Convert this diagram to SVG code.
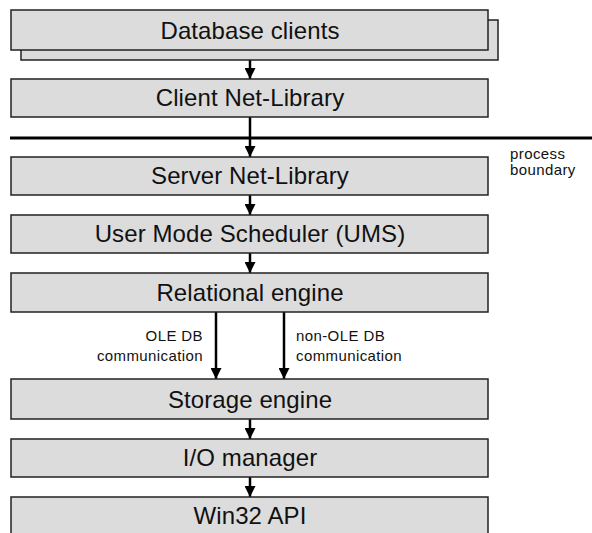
<svg xmlns="http://www.w3.org/2000/svg" width="592" height="533" viewBox="0 0 592 533">
<defs>
<style>
.box{fill:#dcdcdc;stroke:#222;stroke-width:1.5}
.t{font-family:"Liberation Sans",Arial,sans-serif;font-size:24px;letter-spacing:0.1px;fill:#111;text-anchor:middle}
.s{font-family:"Liberation Sans",Arial,sans-serif;font-size:15px;letter-spacing:0.4px;fill:#111}
.c{stroke:#000;stroke-width:2.5;fill:none}
</style>
<marker id="ah" viewBox="0 0 10 10" refX="10" refY="5" markerWidth="11" markerHeight="11" markerUnits="userSpaceOnUse" orient="auto">
<path d="M0,0 L10,5 L0,10 z" fill="#000"/>
</marker>
</defs>
<rect width="592" height="533" fill="#fff"/>
<g id="connectors">
<line class="c" x1="250" y1="50" x2="250" y2="79" marker-end="url(#ah)"/>
<line class="c" x1="250" y1="117" x2="250" y2="157" marker-end="url(#ah)"/>
<line class="c" x1="250" y1="195" x2="250" y2="215" marker-end="url(#ah)"/>
<line class="c" x1="250" y1="253" x2="250" y2="273" marker-end="url(#ah)"/>
<line class="c" x1="216" y1="312" x2="216" y2="379" marker-end="url(#ah)"/>
<line class="c" x1="284" y1="312" x2="284" y2="379" marker-end="url(#ah)"/>
<line class="c" x1="250" y1="419" x2="250" y2="439" marker-end="url(#ah)"/>
<line class="c" x1="250" y1="477" x2="250" y2="497" marker-end="url(#ah)"/>
</g>
<g id="process-boundary">
<line x1="10" y1="138" x2="592" y2="138" stroke="#000" stroke-width="3"/>
<text class="s" x="510" y="159">process</text>
<text class="s" x="510" y="175">boundary</text>
</g>
<g id="database-clients">
<rect class="box" x="21" y="20" width="477" height="40"/>
<rect class="box" x="11" y="10" width="477" height="40"/>
<text class="t" x="250" y="38.5">Database clients</text>
</g>
<g id="client-net-library">
<rect class="box" x="11" y="79" width="477" height="38"/>
<text class="t" x="250" y="106">Client Net-Library</text>
</g>
<g id="server-net-library">
<rect class="box" x="11" y="157" width="477" height="38"/>
<text class="t" x="250" y="184">Server Net-Library</text>
</g>
<g id="ums">
<rect class="box" x="11" y="215" width="477" height="38"/>
<text class="t" x="250" y="242">User Mode Scheduler (UMS)</text>
</g>
<g id="relational-engine">
<rect class="box" x="11" y="273" width="477" height="39"/>
<text class="t" x="250" y="301">Relational engine</text>
</g>
<g id="labels">
<text class="s" x="203" y="341" text-anchor="end">OLE DB</text>
<text class="s" x="203" y="361" text-anchor="end">communication</text>
<text class="s" x="296" y="341">non-OLE DB</text>
<text class="s" x="296" y="361">communication</text>
</g>
<g id="storage-engine">
<rect class="box" x="11" y="379" width="477" height="40"/>
<text class="t" x="250" y="407.5">Storage engine</text>
</g>
<g id="io-manager">
<rect class="box" x="11" y="439" width="477" height="38"/>
<text class="t" x="250" y="466">I/O manager</text>
</g>
<g id="win32-api">
<rect class="box" x="11" y="497" width="477" height="40"/>
<text class="t" x="250" y="524">Win32 API</text>
</g>
</svg>
